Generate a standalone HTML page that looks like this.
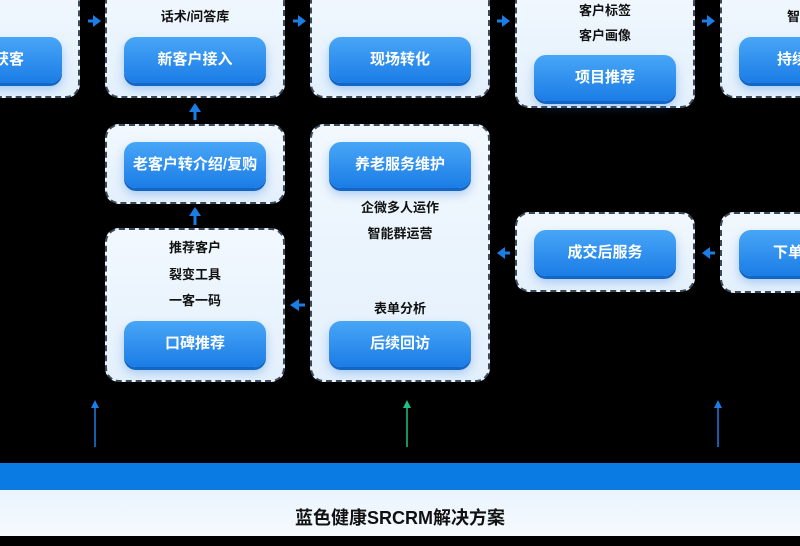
<!DOCTYPE html><html><head><meta charset="utf-8"><style>
body{margin:0;width:800px;height:536px;background:#000;position:relative;overflow:hidden;font-family:"Liberation Sans","Noto Sans CJK SC",sans-serif}
.box{position:absolute;background:linear-gradient(#f2f8fe,#e3f0fc);border:2px dashed #3a4a5a;border-radius:14px;box-sizing:border-box}
.btn{position:absolute;width:142px;height:46px;border-radius:12px;background:linear-gradient(#48a6f7,#1b7ce6);box-shadow:0 3px 0 #1466c4,0 6px 10px rgba(40,120,220,.35);color:#fff;font-size:15px;font-weight:bold;line-height:46px;text-align:center;box-sizing:border-box}
.t{position:absolute;width:180px;text-align:center;font-size:13px;font-weight:bold;color:#111}
.a{position:absolute}
</style></head><body>
<div class="box" style="left:-20px;top:-20px;width:100px;height:118px"></div>
<div class="btn" style="left:-80px;top:37px;text-align:right;padding-right:38px">获客</div>
<div class="t" style="left:-110px;top:-6px">管理</div>
<div class="box" style="left:105px;top:-20px;width:180px;height:118px"></div>
<div class="t" style="left:105px;top:6px">话术/问答库</div>
<div class="btn" style="left:124px;top:37px">新客户接入</div>
<div class="box" style="left:310px;top:-20px;width:180px;height:118px"></div>
<div class="btn" style="left:329px;top:37px">现场转化</div>
<div class="box" style="left:515px;top:-20px;width:180px;height:128px"></div>
<div class="t" style="left:515px;top:0px">客户标签</div>
<div class="t" style="left:515px;top:25px">客户画像</div>
<div class="btn" style="left:534px;top:55px">项目推荐</div>
<div class="box" style="left:720px;top:-20px;width:120px;height:118px"></div>
<div class="t" style="left:720px;top:6px;width:160px">智能</div>
<div class="btn" style="left:739px;top:37px;text-align:left;padding-left:38px">持续</div>
<div class="box" style="left:105px;top:124px;width:180px;height:80px"></div>
<div class="btn" style="left:124px;top:142px">老客户转介绍/复购</div>
<div class="box" style="left:310px;top:124px;width:180px;height:258px"></div>
<div class="btn" style="left:329px;top:142px">养老服务维护</div>
<div class="t" style="left:310px;top:197px">企微多人运作</div>
<div class="t" style="left:310px;top:223px">智能群运营</div>
<div class="t" style="left:310px;top:298px">表单分析</div>
<div class="btn" style="left:329px;top:321px">后续回访</div>
<div class="box" style="left:515px;top:212px;width:180px;height:80px"></div>
<div class="btn" style="left:534px;top:230px">成交后服务</div>
<div class="box" style="left:720px;top:212px;width:120px;height:81px"></div>
<div class="btn" style="left:739px;top:230px;text-align:left;padding-left:34px">下单</div>
<div class="box" style="left:105px;top:228px;width:180px;height:154px"></div>
<div class="t" style="left:105px;top:237px">推荐客户</div>
<div class="t" style="left:105px;top:264px">裂变工具</div>
<div class="t" style="left:105px;top:290px">一客一码</div>
<div class="btn" style="left:124px;top:321px">口碑推荐</div>
<svg class="a" width="800" height="536" style="left:0;top:0">
<g fill="#1a7ee6" stroke="#1a7ee6" stroke-width="3">
<line x1="88" y1="21" x2="94" y2="21"/><polygon points="93,15 101,21 93,27" stroke="none"/>
<line x1="293" y1="21" x2="299" y2="21"/><polygon points="298,15 306,21 298,27" stroke="none"/>
<line x1="497" y1="21" x2="503" y2="21"/><polygon points="502,15 510,21 502,27" stroke="none"/>
<line x1="702" y1="21" x2="708" y2="21"/><polygon points="707,15 715,21 707,27" stroke="none"/>
<line x1="195" y1="120" x2="195" y2="112"/><polygon points="189,112 195,103 201,112" stroke="none"/>
<line x1="195" y1="225" x2="195" y2="216"/><polygon points="189,216 195,207 201,216" stroke="none"/>
<line x1="510" y1="253" x2="504" y2="253"/><polygon points="505,247 497,253 505,259" stroke="none"/>
<line x1="715" y1="253" x2="709" y2="253"/><polygon points="710,247 702,253 710,259" stroke="none"/>
<line x1="305" y1="305" x2="298" y2="305"/><polygon points="299,299 290,305 299,311" stroke="none"/>
</g>
<g stroke-width="1.5">
<line x1="95" y1="447" x2="95" y2="406" stroke="#1a7ee6"/><polygon points="91,408 95,400 99,408" fill="#1a7ee6"/>
<line x1="407" y1="447" x2="407" y2="406" stroke="#20c080"/><polygon points="403,408 407,400 411,408" fill="#20c080"/>
<line x1="718" y1="447" x2="718" y2="406" stroke="#1a7ee6"/><polygon points="714,408 718,400 722,408" fill="#1a7ee6"/>
</g></svg>
<div class="a" style="left:0;top:463px;width:800px;height:27px;background:#0a7be2"></div>
<div class="a" style="left:0;top:490px;width:800px;height:46px;background:linear-gradient(#eaf4fd,#f6faff);text-align:center;line-height:56px;font-size:18px;font-weight:bold;color:#111">蓝色健康SRCRM解决方案</div>
</body></html>
